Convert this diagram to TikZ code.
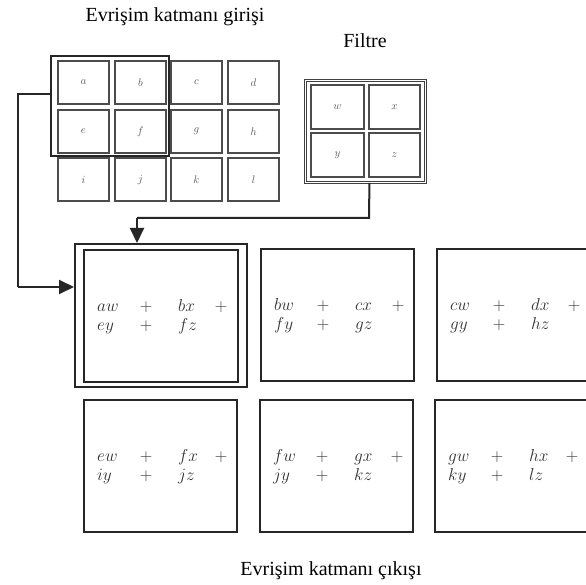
\documentclass[tikz,border=0pt]{standalone}
\usepackage{fontspec}
\setmainfont{Liberation Serif}
\usetikzlibrary{arrows.meta}
\tikzset{
  cellbox/.style={draw=black!70,line width=2pt,minimum width=51pt,minimum height=43pt,
    anchor=north west,inner sep=0pt,font=\fontsize{11}{13}\selectfont,text=black!65},
  outbox/.style={draw=black!85,line width=2.2pt,minimum width=154pt,minimum height=132pt,
    anchor=north west,inner sep=0pt},
  term/.style={inner sep=0pt,font=\fontsize{16}{19}\selectfont,text=black!80},
  title/.style={font=\fontsize{20}{24}\selectfont},
  conn/.style={draw=black!85,line width=2pt},
  arr/.style={conn,-{Triangle[length=15pt,width=14pt]}}
}
\newcommand\outterms[5]{%
  \node[term,anchor=base west] (#1a) at ([xshift=14pt,yshift=5pt]#1.west) {$#2$};
  \node[term,anchor=base] (#1b) at ([xshift=63pt,yshift=5pt]#1.west) {$+$};
  \node[term,anchor=base west] (#1c) at ([xshift=95pt,yshift=5pt]#1.west) {$#3$};
  \node[term,anchor=base] (#1d) at ([xshift=138pt,yshift=5pt]#1.west) {$+$};
  \node[term,anchor=base west] (#1e) at ([xshift=14pt,yshift=-14pt]#1.west) {$#4$};
  \node[term,anchor=base] (#1f) at ([xshift=63pt,yshift=-14pt]#1.west) {$+$};
  \node[term,anchor=base west] (#1g) at ([xshift=95pt,yshift=-14pt]#1.west) {$#5$};
}
\begin{document}
\begin{tikzpicture}[x=1pt,y=-1pt]
\useasboundingbox (0,0) rectangle (586,585);
\clip (0,0) rectangle (586,585);
\fill[white] (0,0) rectangle (586,585);

% titles
\node[title] (tin) at (175,17) {Evrişim katmanı girişi};
\node[title] (tfl) at (365,41) {Filtre};
\node[title] (tout) at (331,571) {Evrişim katmanı çıkışı};

% input cells
\node[cellbox] (ca) at (57,60) {$a$};
\node[cellbox] (cb) at (114,60) {$b$};
\node[cellbox] (cc) at (170,60) {$c$};
\node[cellbox] (cd) at (227,60) {$d$};
\node[cellbox] (ce) at (57,109) {$e$};
\node[cellbox] (cf) at (114,109) {$f$};
\node[cellbox] (cg) at (170,109) {$g$};
\node[cellbox] (ch) at (227,109) {$h$};
\node[cellbox] (ci) at (57,157) {$i$};
\node[cellbox] (cj) at (114,157) {$j$};
\node[cellbox] (ck) at (170,157) {$k$};
\node[cellbox] (cl) at (227,157) {$l$};
% window on input
\node[draw=black!85,line width=2pt,minimum width=118pt,minimum height=100pt,anchor=north west,inner sep=0pt] (win) at (50,55) {};

% filter
\node[draw=black!75,double,double distance=1.6pt,line width=0.9pt,minimum width=120pt,minimum height=102pt,anchor=north west,inner sep=0pt] (filt) at (305,80) {};
\node[cellbox,minimum width=53pt,minimum height=44pt] (fw) at (310,84) {$w$};
\node[cellbox,minimum width=51pt,minimum height=44pt] (fx) at (368,84) {$x$};
\node[cellbox,minimum width=53pt,minimum height=44pt] (fy) at (310,132) {$y$};
\node[cellbox,minimum width=51pt,minimum height=44pt] (fz) at (368,132) {$z$};

% output boxes
\node[draw=black!85,line width=2.2pt,minimum width=172pt,minimum height=143pt,anchor=north west,inner sep=0pt] (o1w) at (74,243) {};
\node[outbox] (o1) at (83,249) {};
\node[outbox,minimum width=153pt] (o2) at (260,248) {};
\node[outbox] (o3) at (436,248) {};
\node[outbox,minimum width=153pt] (o4) at (83,399) {};
\node[outbox,minimum width=153pt] (o5) at (259,399) {};
\node[outbox] (o6) at (434,399) {};

\outterms{o1}{aw}{bx}{ey}{fz}
\outterms{o2}{bw}{cx}{fy}{gz}
\outterms{o3}{cw}{dx}{gy}{hz}
\outterms{o4}{ew}{fx}{iy}{jz}
\outterms{o5}{fw}{gx}{jy}{kz}
\outterms{o6}{gw}{hx}{ky}{lz}

% connectors
\coordinate (k1) at (369,218);
\coordinate (k2) at (137,218);
\draw[conn] ([xshift=4pt]filt.south) -- (k1) -- (k2);
\draw[arr] (k2) -- (k2 |- o1w.north);
\coordinate (w1) at (50,94);
\coordinate (w2) at (18,94);
\coordinate (w3) at (18,287);
\draw[conn] (w1) -- (w2) -- (w3);
\draw[arr] (w3) -- (o1w.west |- w3);
\end{tikzpicture}
\end{document}
